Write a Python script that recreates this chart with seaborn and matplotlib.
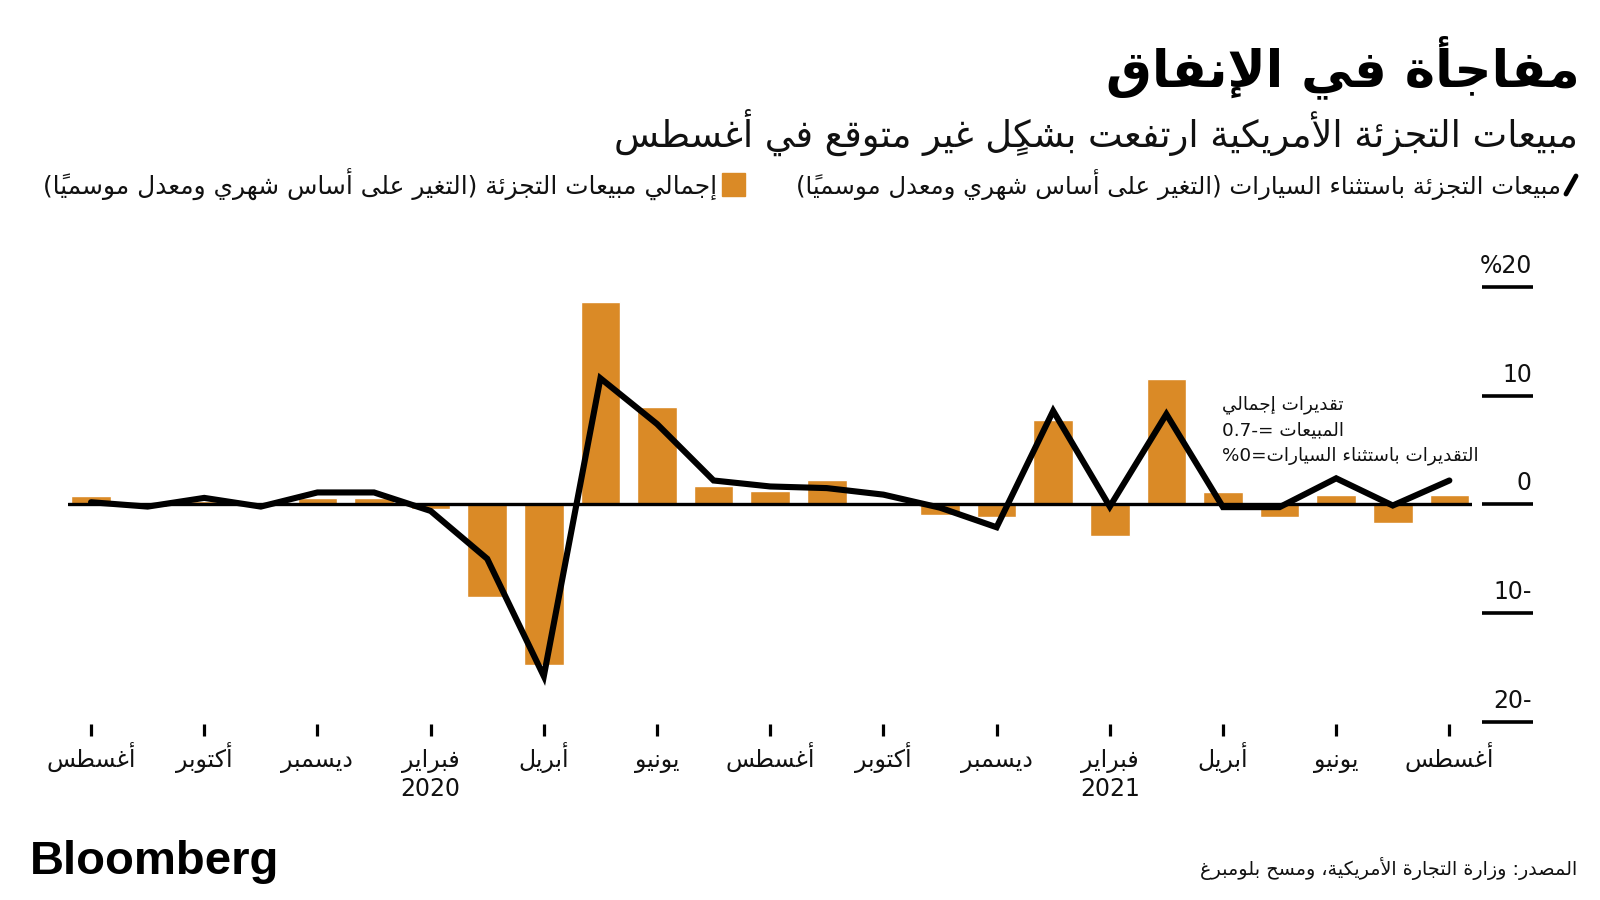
import matplotlib
matplotlib.use("Agg")
import matplotlib.pyplot as plt
from matplotlib import transforms
from matplotlib.lines import Line2D
from matplotlib.patches import Rectangle
import seaborn as sns

# ==================================
# DADOS
# ==================================

month_names = [
    "أغسطس", "سبتمبر", "أكتوبر", "نوفمبر", "ديسمبر",
    "يناير", "فبراير", "مارس", "أبريل", "مايو", "يونيو", "يوليو",
    "أغسطس", "سبتمبر", "أكتوبر", "نوفمبر", "ديسمبر",
    "يناير", "فبراير", "مارس", "أبريل", "مايو", "يونيو", "يوليو", "أغسطس",
]
years = ["2019"] * 5 + ["2020"] * 12 + ["2021"] * 8

# total retail sales, % m/m
total_sales = [
    0.8, -0.2, 0.3, 0.1, 0.6,
    0.6, -0.4, -8.5, -14.8, 18.6, 9.0, 1.65,
    1.2, 2.2, 0.1, -1.0, -1.2,
    7.8, -2.9, 11.5, 1.1, -1.2, 0.9, -1.7, 0.9,
]
# retail sales ex autos, % m/m
ex_autos = [
    0.2, -0.2, 0.6, -0.2, 1.1,
    1.1, -0.6, -5.0, -15.8, 11.6, 7.4, 2.2,
    1.65, 1.5, 0.9, -0.3, -2.1,
    8.6, -0.2, 8.3, -0.25, -0.25, 2.4, -0.1, 2.2,
]

ytick_vals = [20, 10, 0, -10, -20]
ytick_labels = ["20%", "10", "0", "-10", "-20"]

title = "مفاجأة في الإنفاق"
subtitle = "مبيعات التجزئة الأمريكية ارتفعت بشكلٍ غير متوقع في أغسطس"
leg_line = "مبيعات التجزئة باستثناء السيارات (التغير على أساس شهري ومعدل موسمياً)"
leg_bar = "إجمالي مبيعات التجزئة (التغير على أساس شهري ومعدل موسمياً)"
note_lines = ["تقديرات إجمالي", "المبيعات =-0.7", "التقديرات باستثناء السيارات=0%"]
source = "المصدر: وزارة التجارة الأمريكية، ومسح بلومبرغ"

ORANGE = "#DA8A26"

# ==================================
# ARABIC SHAPING (matplotlib has no RTL layout)
# ==================================

DUAL = {"ئ": 0xFE89, "ب": 0xFE8F, "ت": 0xFE95, "ث": 0xFE99, "ج": 0xFE9D,
        "ح": 0xFEA1, "خ": 0xFEA5, "س": 0xFEB1, "ش": 0xFEB5, "ص": 0xFEB9,
        "ض": 0xFEBD, "ط": 0xFEC1, "ظ": 0xFEC5, "ع": 0xFEC9, "غ": 0xFECD,
        "ف": 0xFED1, "ق": 0xFED5, "ك": 0xFED9, "ل": 0xFEDD, "م": 0xFEE1,
        "ن": 0xFEE5, "ه": 0xFEE9, "ي": 0xFEF1}
RIGHT = {"آ": 0xFE81, "أ": 0xFE83, "ؤ": 0xFE85, "إ": 0xFE87, "ا": 0xFE8D,
         "ة": 0xFE93, "د": 0xFEA9, "ذ": 0xFEAB, "ر": 0xFEAD, "ز": 0xFEAF,
         "و": 0xFEED, "ى": 0xFEEF}
LAMALEF = {"آ": 0xFEF5, "أ": 0xFEF7, "إ": 0xFEF9, "ا": 0xFEFB}
MARKS = set(chr(c) for c in range(0x064B, 0x0653))
MIRROR = {"(": ")", ")": "("}


def is_digitish(ch):
    return ch.isdigit() or ch == "."


def ar(text):
    # units: [kind, base, marks]
    units = []
    i = 0
    while i < len(text):
        ch = text[i]
        if ch in MARKS and units:
            units[-1][2] += ch
        elif ch == "ل" and i + 1 < len(text) and text[i + 1] in LAMALEF:
            units.append(["la", text[i + 1], ""])
            i += 1
        elif ch in DUAL:
            units.append(["d", ch, ""])
        elif ch in RIGHT:
            units.append(["r", ch, ""])
        elif ch == "ء":
            units.append(["n", ch, ""])
        else:
            units.append(["o", ch, ""])
        i += 1

    shaped = []
    for k, (kind, base, marks) in enumerate(units):
        prev_joins = k > 0 and units[k - 1][0] == "d"
        next_ok = k + 1 < len(units) and units[k + 1][0] in ("d", "r", "la")
        if kind == "d":
            b = DUAL[base]
            if prev_joins and next_ok:
                g = b + 3
            elif prev_joins:
                g = b + 1
            elif next_ok:
                g = b + 2
            else:
                g = b
            shaped.append(chr(g) + marks)
        elif kind == "r":
            shaped.append(chr(RIGHT[base] + (1 if prev_joins else 0)) + marks)
        elif kind == "la":
            shaped.append(chr(LAMALEF[base] + (1 if prev_joins else 0)) + marks)
        elif kind == "n":
            shaped.append("\uFE80" + marks)
        else:
            shaped.append(MIRROR.get(base, base) + marks)

    # visual order: reverse, but keep digit runs left-to-right
    out = []
    run = []
    for s in reversed(shaped):
        if is_digitish(s[0]):
            run.append(s)
        else:
            if run:
                out.extend(reversed(run))
                run = []
            out.append(s)
    if run:
        out.extend(reversed(run))
    return "".join(out)


# ==================================
# FIGURA
# ==================================

sns.set_theme(style="white")
plt.rcParams["font.family"] = ["DejaVu Sans"]

W, H = 1600, 900
fig = plt.figure(figsize=(16, 9), dpi=100)
fig.patch.set_facecolor("white")

# axes placed so that x=0 -> 91px, 24 -> 1449px ; y=0 -> 504px
ax = fig.add_axes([68.4 / W, (H - 736) / H, (1472 - 68.4) / W, (736 - 275) / H])

idx = list(range(len(total_sales)))

sns.barplot(x=idx, y=total_sales, color=ORANGE, saturation=1, width=0.7,
            ax=ax, zorder=2)
ax.axhline(0, color="black", lw=2.4, zorder=3)
sns.lineplot(x=idx, y=ex_autos, color="black", linewidth=4.4, ax=ax, zorder=4)
for ln in ax.lines:
    ln.set_solid_joinstyle("miter")

ax.set_xlim(-0.4, 24.4)
ax.set_ylim(-21.3, 21.1)

for s in ax.spines.values():
    s.set_visible(False)

# x ticks every two months, year under February
xt = list(range(0, 25, 2))
ax.set_xticks(xt)
ax.set_xticklabels([ar(month_names[i]) for i in xt], fontsize=17,
                   color="#111111", va="baseline")
ax.tick_params(axis="x", bottom=True, direction="in", length=8.6, width=2.3,
               color="black", pad=22)

year_tr = transforms.offset_copy(
    transforms.blended_transform_factory(ax.transData, ax.transAxes),
    fig=fig, y=-53, units="dots")
for i in xt:
    if month_names[i] == "فبراير":
        ax.text(i, 0, years[i], transform=year_tr, ha="center", va="center",
                fontsize=17, color="#111111")

# y ticks: dashes on the right
ax.yaxis.set_ticks_position("right")
ax.spines["right"].set_position(("outward", 7))
ax.set_yticks(ytick_vals)
ax.tick_params(axis="y", right=True, direction="out", length=36.5, width=2.6,
               color="black", labelright=False, labelleft=False)
ax.set_xlabel("")
ax.set_ylabel("")

lab_tr = transforms.offset_copy(
    transforms.blended_transform_factory(fig.transFigure, ax.transData),
    fig=fig, y=9, units="dots")
for v, lab in zip(ytick_vals, ytick_labels):
    ax.text(1532 / W, v, ar(lab), transform=lab_tr, ha="right", va="bottom",
            fontsize=17, color="#111111")

# note
for k, t in enumerate(note_lines):
    fig.text(1222 / W, 1 - (405 + 25.5 * k) / H, ar(t), ha="left",
             va="center", fontsize=13.2, color="#111111")

# ==================================
# TEXTOS
# ==================================

fig.text(1580 / W, 1 - 67 / H, ar(title), ha="right", va="center",
         fontsize=37, fontweight="bold", color="black")
fig.text(1578 / W, 1 - 132 / H, ar(subtitle), ha="right", va="center",
         fontsize=26.5, color="#111111")

# legend
fig.add_artist(Line2D([1566 / W, 1576 / W], [1 - 194 / H, 1 - 176 / H],
                      transform=fig.transFigure, color="black", lw=3.5))
fig.text(1561 / W, 1 - 184 / H, ar(leg_line), ha="right", va="center",
         fontsize=17.6, color="#111111")
fig.add_artist(Rectangle((722 / W, 1 - 196 / H), 23 / W, 23 / H,
                         transform=fig.transFigure, color=ORANGE))
fig.text(717 / W, 1 - 184 / H, ar(leg_bar), ha="right", va="center",
         fontsize=17.9, color="#111111")

fig.text(30 / W, 1 - 862 / H, "Bloomberg", ha="left", va="center",
         fontsize=34, fontweight="bold", family=["Liberation Sans"],
         color="black")
fig.text(1577 / W, 1 - 869 / H, ar(source), ha="right", va="center",
         fontsize=13.8, color="#111111")

fig.savefig("out.png", dpi=100)
